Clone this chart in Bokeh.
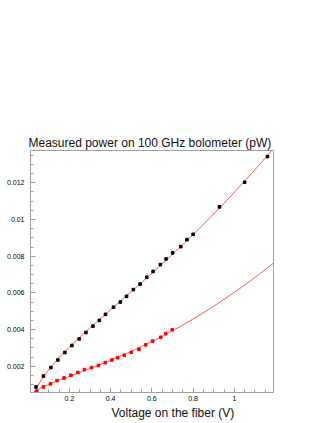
import numpy as np
from bokeh.plotting import figure
from bokeh.models import FixedTicker, Range1d, Title
from bokeh.embed import file_html
from bokeh.resources import INLINE

# ---- data ----
v_black = [0.038, 0.074, 0.110, 0.144, 0.178, 0.212, 0.247, 0.280, 0.314, 0.345,
           0.375, 0.414, 0.447, 0.477, 0.510, 0.543, 0.575, 0.606, 0.641, 0.669,
           0.701, 0.740, 0.770, 0.800, 0.928, 1.050, 1.161]
p_black = [0.00087, 0.00147, 0.00193, 0.00234, 0.00275, 0.00313, 0.00349, 0.00384,
           0.00419, 0.00450, 0.00483, 0.00522, 0.00550, 0.00581, 0.00618, 0.00648,
           0.00685, 0.00717, 0.00754, 0.00785, 0.00818, 0.00852, 0.00890, 0.00919,
           0.01069, 0.01203, 0.01343]

v_red = [0.041, 0.074, 0.108, 0.140, 0.174, 0.207, 0.241, 0.273, 0.307, 0.341,
         0.374, 0.406, 0.434, 0.466, 0.500, 0.537, 0.570, 0.604, 0.643, 0.667, 0.699]
p_red = [0.00064, 0.00087, 0.00104, 0.00122, 0.00136, 0.00151, 0.00166, 0.00182,
         0.00193, 0.00205, 0.00220, 0.00234, 0.00247, 0.00260, 0.00276, 0.00293,
         0.00317, 0.00337, 0.00358, 0.00378, 0.00399]

x_ticks = [0.2, 0.4, 0.6, 0.8, 1.0]
x_tick_labels = ["0.2", "0.4", "0.6", "0.8", "1"]
y_ticks = [0.002, 0.004, 0.006, 0.008, 0.010, 0.012]
y_tick_labels = ["0.002", "0.004", "0.006", "0.008", "0.01", "0.012"]

title_text = "Measured power on 100 GHz bolometer (pW)"
x_title = "Voltage on the fiber (V)"

X_MIN, X_MAX = 0.0112, 1.19
Y_MIN, Y_MAX = 0.00057, 0.01376


def fit(v, p):
    v = np.asarray(v, dtype=float)
    A = np.column_stack([np.ones_like(v), np.sqrt(v), v ** 2])
    return np.linalg.lstsq(A, np.asarray(p, dtype=float), rcond=None)[0]


def model(c, x):
    return c[0] + c[1] * np.sqrt(x) + c[2] * x ** 2


xs = np.linspace(X_MIN, X_MAX, 400)
c_black = fit(v_black, p_black)
c_red = fit(v_red, p_red)

p = figure(width=327, height=423, output_backend="svg", toolbar_location=None,
           x_range=Range1d(X_MIN, X_MAX), y_range=Range1d(Y_MIN, Y_MAX),
           min_border_left=30, min_border_right=54, min_border_top=150,
           min_border_bottom=31)
p.grid.visible = False
p.background_fill_color = "white"
p.border_fill_color = "white"
p.outline_line_color = "#a0a0a0"

p.title.text = title_text
p.title.align = "left"
p.title.offset = -2
p.title.standoff = 1
p.title.text_font = "Liberation Sans"
p.title.text_font_size = "12px"
p.title.text_font_style = "normal"
p.title.text_color = "#111111"

minor_x = [round(0.05 * k, 4) for k in range(1, 24)]
minor_y = [round(0.0005 * k, 5) for k in range(2, 28)]
p.xaxis.ticker = FixedTicker(ticks=x_ticks, minor_ticks=minor_x)
p.yaxis.ticker = FixedTicker(ticks=y_ticks, minor_ticks=minor_y)
p.xaxis.major_label_overrides = dict(zip(x_ticks, x_tick_labels))
p.yaxis.major_label_overrides = dict(zip(y_ticks, y_tick_labels))

for ax in (p.xaxis[0], p.yaxis[0]):
    ax.axis_line_color = "#a0a0a0"
    ax.major_tick_line_color = "#a0a0a0"
    ax.minor_tick_line_color = "#a0a0a0"
    ax.major_tick_in = 5
    ax.major_tick_out = 0
    ax.minor_tick_in = 3
    ax.minor_tick_out = 0
    ax.major_label_text_font = "Liberation Sans"
    ax.major_label_text_font_size = "7px"
    ax.major_label_text_color = "black"
p.xaxis.major_label_standoff = 3
p.yaxis.major_label_standoff = 6

xt = Title(text=x_title, align="left", offset=81, standoff=0,
           text_font="Liberation Sans", text_font_size="12px",
           text_font_style="normal", text_color="#111111")
p.add_layout(xt, "below")

p.line(xs, model(c_black, xs), line_color="red", line_width=1, line_alpha=0.75)
p.line(xs, model(c_red, xs), line_color="red", line_width=1, line_alpha=0.75)
p.scatter(v_black, p_black, marker="square", size=2.6, color="black")
p.scatter(v_red, p_red, marker="square", size=2.6, color="#ff0000")

open("out.html", "w").write(file_html(p, INLINE))
